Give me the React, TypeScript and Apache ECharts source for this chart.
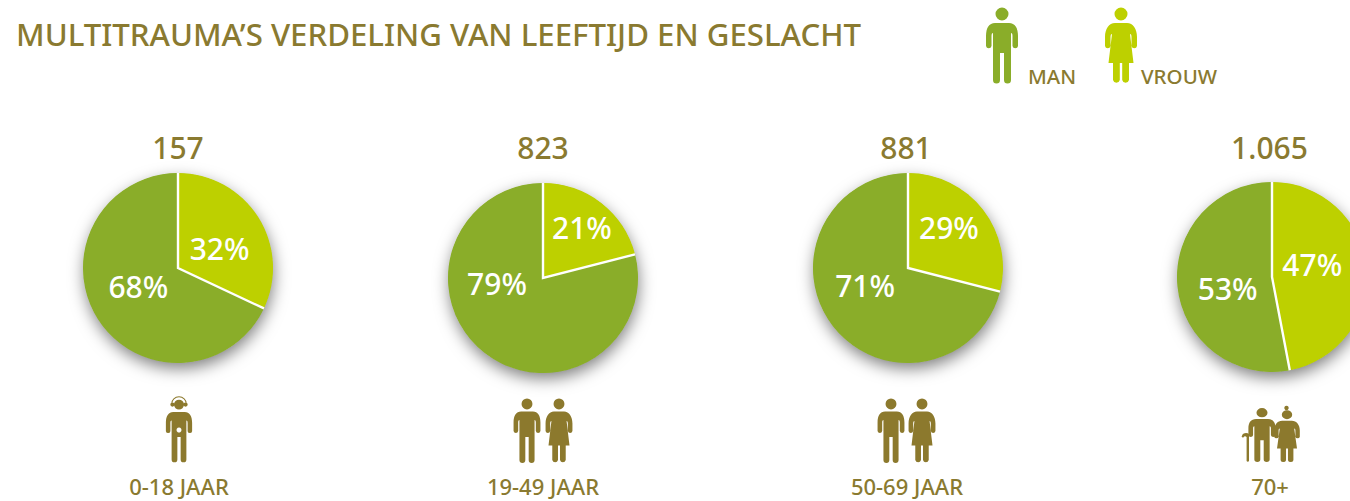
import React, { useEffect, useRef } from "react";
import * as echarts from "echarts";

const chartTitle = "MULTITRAUMA’S VERDELING VAN LEEFTIJD EN GESLACHT";
const legendNames = ["MAN", "VROUW"];
const ageGroups = ["0-18 JAAR", "19-49 JAAR", "50-69 JAAR", "70+"];
const totals = ["157", "823", "881", "1.065"];
const womenPct = [32, 21, 29, 47];
const menPct = [68, 79, 71, 53];

const TEXT = "#8a7a30";
const ICON = "#8c792d";
const MAN = "#8aad29";
const WOMAN = "#bdd000";
const FONT = "'Noto Sans', sans-serif";
const RADIUS = 95;

const centers = [[178, 268], [543, 278], [908, 268], [1272, 277]];
const womanOffsets = [[-1, 8], [8, -11], [1, -10], [-10, -8]];
const manOffsets = [[3, -9], [-15, -34], [-3, -13], [6, 7]];
const numberX = [178, 543, 906, 1269.5];
const ageX = [179, 543, 907, 1270];

const circle = (cx: number, cy: number, r: number) =>
  `M${cx - r} ${cy}A${r} ${r} 0 1 1 ${cx + r} ${cy}A${r} ${r} 0 1 1 ${cx - r} ${cy}Z`;

const manBody =
  "M-7 23H7C13 23 16 28 16 36V46A2.8 2.8 0 0 1 10.5 46V36C10.5 34 10 33 9 33V80A3.5 3.5 0 0 1 2 80V53H-2V80A3.5 3.5 0 0 1 -9 80V33C-10 33 -10.5 34 -10.5 36V46A2.8 2.8 0 0 1 -16 46V36C-16 28 -13 23 -7 23Z";
const womanBody =
  "M-6 23H6C12 23 16 29 16 37V46A2.8 2.8 0 0 1 10.5 46V37C10.5 35 10 34 9 34L12.5 63H8V80A3.5 3.5 0 0 1 1.2 80V63H-1.2V80A3.5 3.5 0 0 1 -8 80V63H-12.5L-9 34C-10 34 -10.5 35 -10.5 37V46A2.8 2.8 0 0 1 -16 46V37C-16 29 -12 23 -6 23Z";
const headband = "M-9.5 13A9.5 9 0 0 1 9.5 13H8.3A8.3 7.8 0 0 0 -8.3 13Z";
const cane =
  "M0 2C0 -1 5 -2 7 0V27A1.4 1.4 0 0 1 4.6 27V3C3.6 1.8 2 2 1.6 3.2A0.8 0.8 0 0 1 0 2Z";

echarts.graphic.registerShape("manIcon", echarts.graphic.extendPath(circle(0, 14, 6.5) + manBody, {}));
echarts.graphic.registerShape("womanIcon", echarts.graphic.extendPath(circle(0, 14, 6.5) + womanBody, {}));
echarts.graphic.registerShape(
  "childIcon",
  echarts.graphic.extendPath(circle(0, 14, 6) + circle(-8, 14, 2.6) + circle(8, 14, 2.6) + headband + manBody, {})
);
echarts.graphic.registerShape("caneIcon", echarts.graphic.extendPath(cane, {}));

const icon = (type: string, x: number, y: number, sx: number, sy: number, fill: string) => ({
  type, x, y, scaleX: sx, scaleY: sy, silent: true, style: { fill },
});
const label = (text: string, x: number, y: number, align: string, size: number) => ({
  type: "text", x, y, silent: true,
  style: { text, fill: TEXT, font: `500 ${size}px ${FONT}`, textAlign: align, textVerticalAlign: "middle" },
});
const separator = (i: number) => {
  const [cx, cy] = centers[i];
  const a = (womenPct[i] / 100) * 2 * Math.PI;
  return {
    type: "polyline", silent: true, z: 20,
    shape: { points: [[cx, cy - RADIUS], [cx, cy], [cx + RADIUS * Math.sin(a), cy - RADIUS * Math.cos(a)]] },
    style: { stroke: "#fff", lineWidth: 2.4, fill: "none", lineJoin: "miter" },
  };
};

export default function App() {
  const ref = useRef<HTMLDivElement>(null);
  useEffect(() => {
    document.body.style.margin = "0";
    document.body.style.overflow = "hidden";
    const chart = echarts.init(ref.current!, null, { renderer: "svg" });
    const series: any[] = [];
    totals.forEach((total, i) => {
      series.push({
        type: "pie", center: centers[i], radius: RADIUS - 0.5, silent: true, z: 1,
        label: { show: false }, labelLine: { show: false },
        itemStyle: { color: MAN, shadowBlur: 16, shadowOffsetX: 1, shadowOffsetY: 6, shadowColor: "rgba(0,0,0,0.5)" },
        data: [{ name: ageGroups[i], value: parseFloat(total) }],
      });
      series.push({
        type: "pie", center: centers[i], radius: RADIUS, startAngle: 90, clockwise: true, silent: true, z: 2,
        labelLine: { show: false },
        itemStyle: { borderWidth: 0 },
        label: { show: true, position: "inside", formatter: "{c}%", color: "#fff", fontSize: 30, fontWeight: 500, fontFamily: FONT },
        data: [
          { name: "VROUW", value: womenPct[i], itemStyle: { color: WOMAN }, label: { offset: womanOffsets[i] } },
          { name: "MAN", value: menPct[i], itemStyle: { color: MAN }, label: { offset: manOffsets[i] } },
        ],
      });
    });
    chart.setOption({
      animation: false,
      backgroundColor: "#fff",
      title: [
        { text: chartTitle, left: 16, top: 18, padding: 0, textStyle: { color: TEXT, fontSize: 31.2, fontWeight: 500, fontFamily: FONT } },
        ...totals.map((t, i) => ({
          text: t, left: numberX[i], top: 132, padding: 0, textAlign: "center",
          textStyle: { color: TEXT, fontSize: 30, fontWeight: 500, fontFamily: FONT },
        })),
      ],
      series,
      graphic: [
        icon("manIcon", 1002, 0, 1, 1, MAN),
        icon("womanIcon", 1121, 0, 1, 1, WOMAN),
        label(legendNames[0], 1028, 76, "left", 20.5),
        label(legendNames[1], 1141, 76, "left", 20.5),
        icon("childIcon", 179, 393, 0.82, 0.83, ICON),
        { type: "circle", silent: true, z: 5, shape: { cx: 179, cy: 430, r: 2.5 }, style: { fill: "#fff" } },
        icon("manIcon", 527, 392, 0.84, 0.85, ICON),
        icon("womanIcon", 559, 392, 0.84, 0.85, ICON),
        icon("manIcon", 891, 392, 0.84, 0.85, ICON),
        icon("womanIcon", 922, 392, 0.84, 0.85, ICON),
        icon("manIcon", 1262, 402.7, 0.85, 0.71, ICON),
        icon("womanIcon", 1287, 405, 0.8, 0.69, ICON),
        { type: "circle", silent: true, shape: { cx: 1286.5, cy: 408, r: 2.2 }, style: { fill: ICON } },
        icon("caneIcon", 1242, 434, 1, 1, ICON),
        ...ageGroups.map((t, i) => label(t, ageX[i], 486, "center", 22)),
        ...totals.map((_, i) => separator(i)),
      ],
    });
    return () => chart.dispose();
  }, []);
  return <div ref={ref} style={{ position: "fixed", left: 0, top: 0, width: 1350, height: 501 }} />;
}
